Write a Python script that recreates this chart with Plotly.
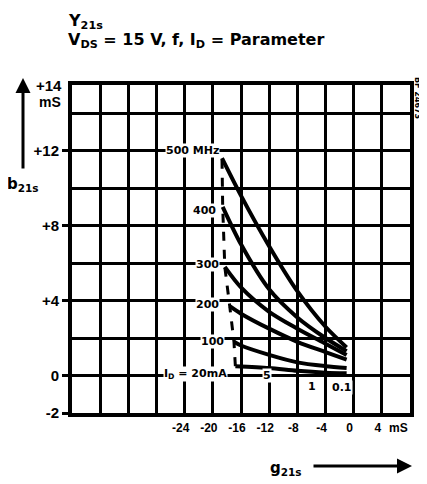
import plotly.graph_objects as go

# ---- data (g21s, b21s in mS) ----
freq_names = ["500 MHz", "400 MHz", "300 MHz", "200 MHz", "100 MHz"]
g_500 = [-18.7, -16, -12, -8, -4, -1.0]
b_500 = [11.6, 9.6, 6.9, 4.5, 2.6, 1.5]
g_400 = [-18.6, -16, -12, -8, -4, -1.0]
b_400 = [9.0, 7.0, 4.6, 3.1, 2.0, 1.3]
g_300 = [-18.3, -16, -12, -8, -4, -1.0]
b_300 = [5.8, 4.7, 3.4, 2.5, 1.7, 1.1]
g_200 = [-17.6, -16, -12, -8, -4, -1.0]
b_200 = [3.7, 3.3, 2.5, 1.8, 1.25, 0.85]
g_100 = [-17.0, -16, -12, -8, -4, -1.0]
b_100 = [1.8, 1.6, 1.1, 0.7, 0.5, 0.4]
# lowest (unlabelled) curve along which the I_D values are marked
g_low = [-16.8, -12, -8, -4, -1.0]
b_low = [0.5, 0.4, 0.25, 0.15, 0.12]

# constant I_D = 20 mA locus (dashed)
id20_g = [-16.8, -17.0, -17.6, -18.3, -18.6, -18.7]
id20_b = [0.5, 1.8, 3.7, 5.8, 9.0, 11.6]

x_ticks = [-24, -20, -16, -12, -8, -4, 0, 4]
x_tick_text = ["-24", "-20", "-16", "-12", "-8", "-4", "0", "4"]
y_ticks = [-2, 0, 4, 8, 12]
y_tick_text = ["-2", "0", "+4", "+8", "+12"]

curve_labels = ["500 MHz", "400", "300", "200", "100"]
curve_label_pos = [(-22.9, 12.0), (-21.2, 8.8), (-20.7, 5.9), (-20.7, 3.8), (-20.1, 1.8)]
id_labels = ["I<sub>D</sub> = 20mA", "5", "1", "0.1"]
id_label_pos = [(-22.4, 0.1), (-12.3, 0.0), (-5.9, -0.6), (-1.6, -0.65)]

FONT = "DejaVu Sans"
FONT2 = "Liberation Sans"
fig = go.Figure()

series = [(g_500, b_500), (g_400, b_400), (g_300, b_300), (g_200, b_200),
          (g_100, b_100), (g_low, b_low)]
names = freq_names + ["lowest curve"]
for name, (g, b) in zip(names, series):
    fig.add_trace(go.Scatter(x=g, y=b, mode="lines", name=name,
                             line=dict(color="black", width=4, shape="spline", smoothing=0.8),
                             showlegend=False))

fig.add_trace(go.Scatter(x=id20_g, y=id20_b, mode="lines", name="I_D = 20 mA",
                         line=dict(color="black", width=3, dash="dash"),
                         showlegend=False))

annotations = []
for txt, (x, y) in zip(curve_labels, curve_label_pos):
    annotations.append(dict(x=x, y=y, xref="x", yref="y", text=txt, showarrow=False,
                            bgcolor="white", borderpad=0,
                            font=dict(family=FONT, size=11, color="black", weight="bold")))
for txt, (x, y) in zip(id_labels, id_label_pos):
    annotations.append(dict(x=x, y=y, xref="x", yref="y", text=txt, showarrow=False,
                            bgcolor="white", borderpad=0,
                            font=dict(family=FONT, size=11, color="black", weight="bold")))

# plot area in screen px: x 72..410, y 85..413
def px(xp):
    return (xp - 72) / 338.0

def py(yp):
    return (413 - yp) / 328.0

tfont = dict(family=FONT, size=16, color="black", weight="bold")
lfont = dict(family=FONT, size=15, color="black", weight="bold")
annotations += [
    dict(x=px(66), y=py(22), xref="paper", yref="paper", xanchor="left", yanchor="middle",
         text="Y<sub>21s</sub>", showarrow=False, font=tfont),
    dict(x=px(66), y=py(40), xref="paper", yref="paper", xanchor="left", yanchor="middle",
         text="V<sub>DS</sub> = 15 V, f, I<sub>D</sub> = Parameter", showarrow=False, font=tfont),
    dict(x=px(64), y=py(85), xref="paper", yref="paper", xanchor="right", yanchor="middle",
         text="+14", showarrow=False, font=dict(family=FONT2, size=15, color="black", weight="bold")),
    dict(x=px(63), y=py(102), xref="paper", yref="paper", xanchor="right", yanchor="middle",
         text="mS", showarrow=False, font=dict(family=FONT2, size=14, color="black", weight="bold")),
    dict(x=px(23), y=py(184), xref="paper", yref="paper", xanchor="center", yanchor="middle",
         text="b<sub>21s</sub>", showarrow=False, font=lfont),
    dict(x=px(23), y=py(78), xref="paper", yref="paper", text="", showarrow=True,
         ax=0, ay=92, arrowhead=2, arrowwidth=3, arrowsize=1, arrowcolor="black"),
    dict(x=px(286), y=py(468), xref="paper", yref="paper", xanchor="center", yanchor="middle",
         text="g<sub>21s</sub>", showarrow=False, font=lfont),
    dict(x=px(412), y=py(466), xref="paper", yref="paper", text="", showarrow=True,
         ax=-100, ay=0, arrowhead=2, arrowwidth=3, arrowsize=1, arrowcolor="black"),
    dict(x=px(398), y=py(428), xref="paper", yref="paper", xanchor="center", yanchor="middle",
         text="mS", showarrow=False, font=dict(family=FONT2, size=12, color="black", weight="bold")),
    dict(x=px(418), y=py(98), xref="paper", yref="paper", xanchor="center", yanchor="middle",
         text="BF 24673", textangle=90, showarrow=False,
         font=dict(family=FONT, size=8, color="black", weight="bold")),
]

# the page body has an 8 px margin; size the figure so the plot sits where the reference has it
fig.update_layout(
    width=419, height=476,
    margin=dict(l=64, r=17, t=77, b=71),
    paper_bgcolor="white", plot_bgcolor="white",
    annotations=annotations,
    xaxis=dict(range=[-40, 8], tickvals=x_ticks, ticktext=x_tick_text,
               showline=True, mirror=True, linewidth=4, linecolor="black",
               showgrid=True, gridcolor="black", gridwidth=3, zeroline=False,
               ticks="", ticklabelstandoff=1, ticklabelshift=-4,
               tickfont=dict(family=FONT2, size=12, color="black", weight="bold"),
               minor=dict(tickmode="linear", tick0=-40, dtick=4, showgrid=True,
                          gridcolor="black", gridwidth=3)),
    yaxis=dict(range=[-2, 15.5], tickvals=y_ticks, ticktext=y_tick_text,
               showline=True, mirror=True, linewidth=4, linecolor="black",
               showgrid=True, gridcolor="black", gridwidth=3, zeroline=False,
               ticks="outside", ticklen=6, tickwidth=3, tickcolor="black",
               tickfont=dict(family=FONT2, size=15, color="black", weight="bold"),
               minor=dict(tickmode="linear", tick0=-2, dtick=2, showgrid=True,
                          gridcolor="black", gridwidth=3)),
)

fig.write_html("out.html")
